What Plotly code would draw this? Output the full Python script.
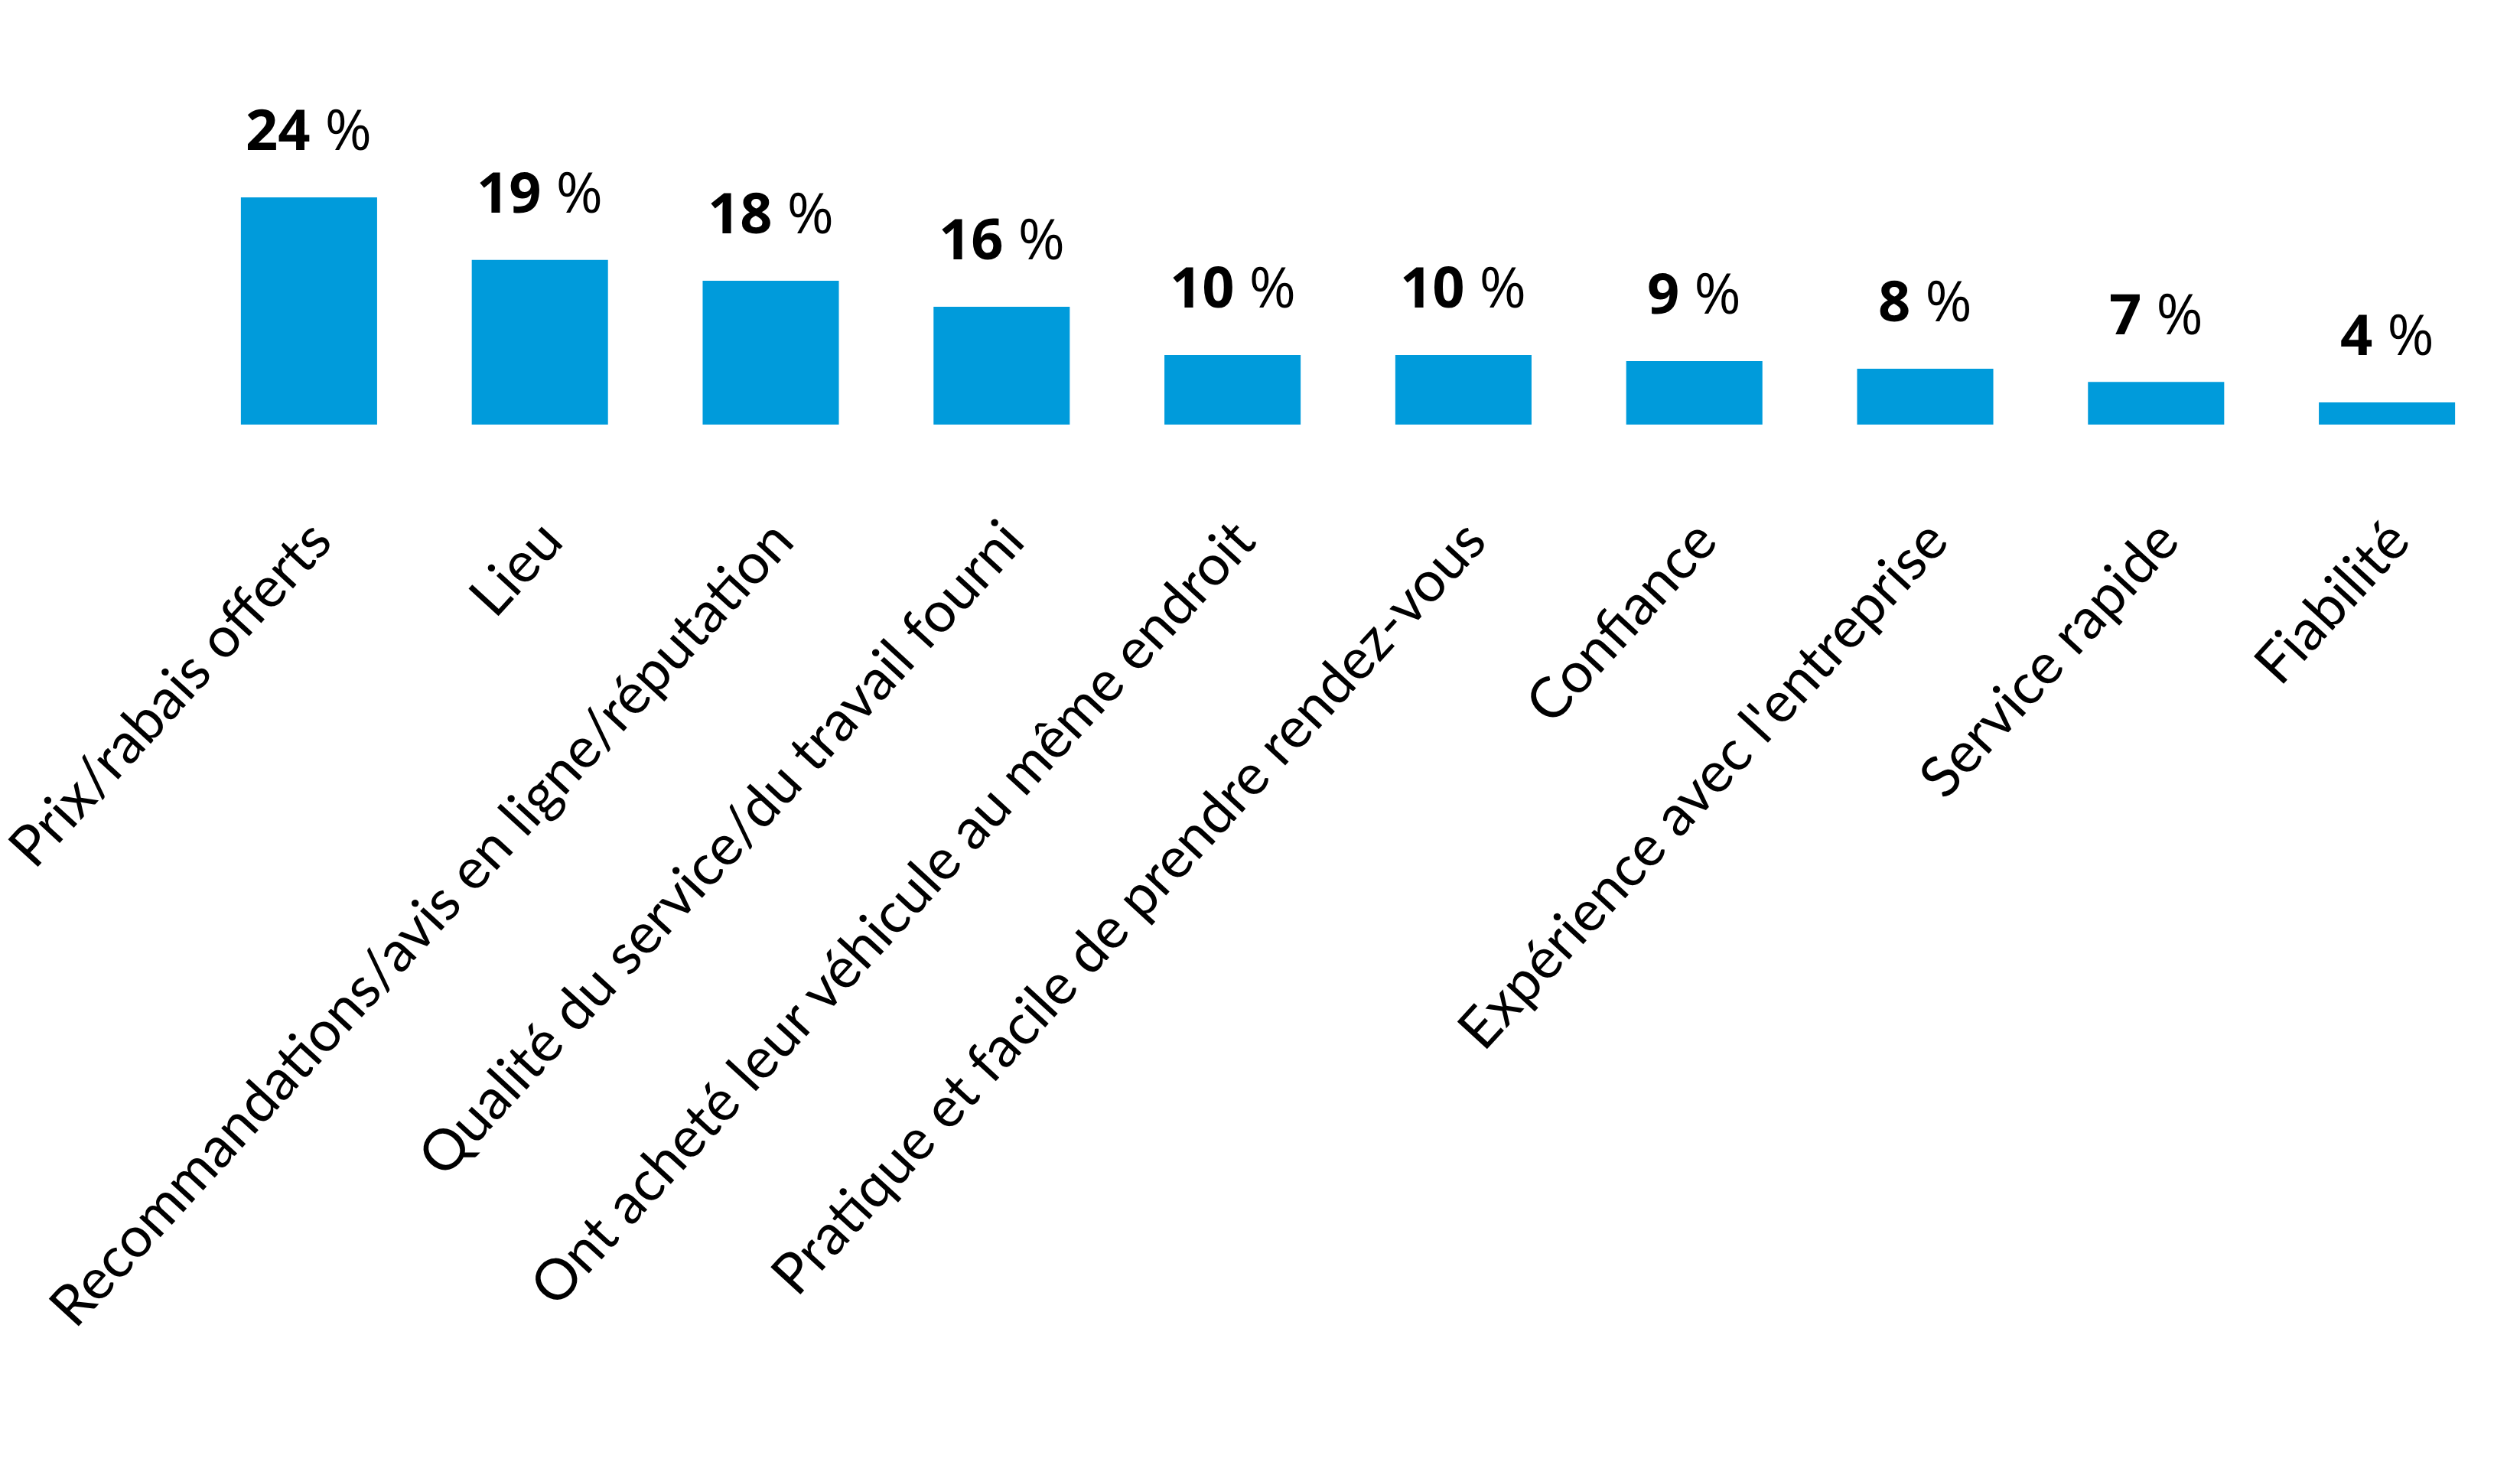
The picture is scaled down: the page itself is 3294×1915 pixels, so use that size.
import plotly.graph_objects as go

categories = [
    "Prix/rabais offerts",
    "Lieu",
    "Recommandations/avis en ligne/réputation",
    "Qualité du service/du travail fourni",
    "Ont acheté leur véhicule au même endroit",
    "Pratique et facile de prendre rendez-vous",
    "Confiance",
    "Expérience avec l'entreprise",
    "Service rapide",
    "Fiabilité",
]
# bar heights as drawn in the picture (in % units)
bar_values = [24, 17.4, 15.2, 12.45, 7.35, 7.35, 6.7, 5.9, 4.5, 2.35]
# labels printed above the bars
label_values = [24, 19, 18, 16, 10, 10, 9, 8, 7, 4]

W, H = 3294, 1915
margin_l, margin_r, margin_t, margin_b = 253, 23, 100, 1360
px_per_unit = 12.375
plot_h = H - margin_t - margin_b
y_max = plot_h / px_per_unit

bar_color = "#009BDB"
label_shift = 0.02  # small horizontal nudge of the rotated tick labels

positions = list(range(len(categories)))

fig = go.Figure()
fig.add_trace(go.Bar(
    x=positions,
    y=bar_values,
    marker=dict(color=bar_color, line=dict(width=0)),
    hoverinfo="skip",
))

for p, v, lab in zip(positions, bar_values, label_values):
    fig.add_annotation(
        x=p, y=v, xref="x", yref="y",
        text=f"<b>{lab}</b> %",
        showarrow=False,
        yanchor="bottom",
        yshift=38,
        font=dict(family="Open Sans", size=74, color="#000000"),
    )

fig.update_layout(
    width=W, height=H,
    margin=dict(l=margin_l, r=margin_r, t=margin_t, b=margin_b, autoexpand=False),
    paper_bgcolor="white",
    plot_bgcolor="white",
    bargap=0.41,
    showlegend=False,
    xaxis=dict(
        range=[-0.5, len(categories) - 0.5],
        tickmode="array",
        tickvals=[p + label_shift for p in positions],
        ticktext=categories,
        tickangle=-47.5,
        tickfont=dict(family="Lato", size=74, color="#000000"),
        ticklabeloverflow="allow",
        showgrid=False, showline=False, zeroline=False,
        ticks="", automargin=False,
        ticklabelstandoff=92,
    ),
    yaxis=dict(
        range=[0, y_max],
        visible=False, showgrid=False, zeroline=False,
    ),
)

fig.write_html("out.html")
